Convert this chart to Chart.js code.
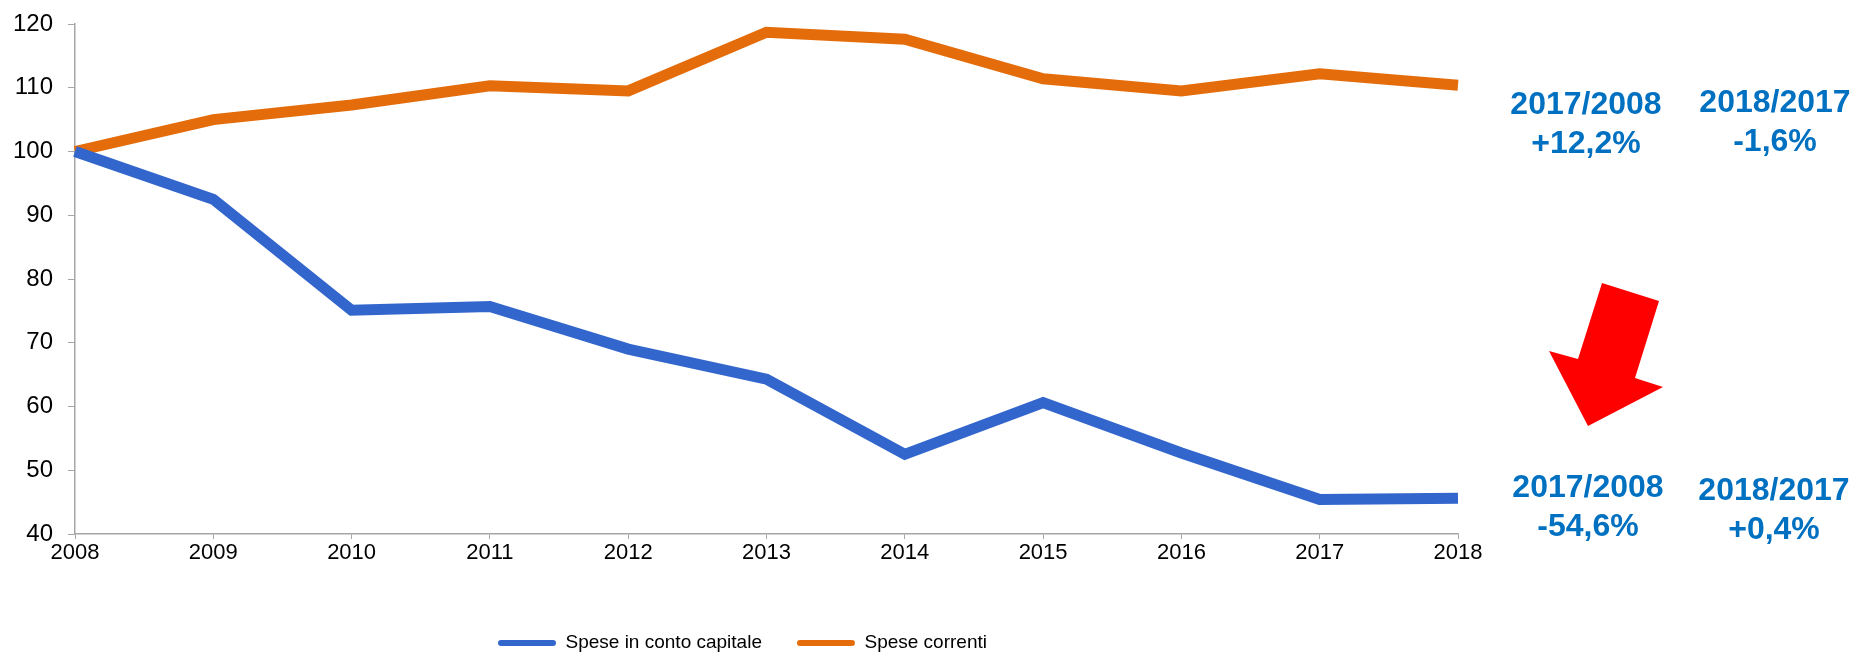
<!DOCTYPE html>
<html>
<head>
<meta charset="utf-8">
<script src="https://cdn.jsdelivr.net/npm/chart.js@4"></script>
<style>
  html, body { margin: 0; padding: 0; background: #fff; }
  #wrap { width: 1869px; height: 653px; position: relative; }
</style>
</head>
<body>
<div id="wrap"><canvas id="spese"></canvas></div>
<script>
const years = ['2008', '2009', '2010', '2011', '2012', '2013', '2014', '2015', '2016', '2017', '2018'];
const speseCapitale = [100, 92.5, 75.1, 75.7, 69.0, 64.3, 52.5, 60.6, 52.7, 45.4, 45.6];
const speseCorrenti = [100, 105.0, 107.3, 110.3, 109.5, 118.7, 117.6, 111.4, 109.5, 112.2, 110.4];
const yTicks = [40, 50, 60, 70, 80, 90, 100, 110, 120];
const notesCorrenti = [['2017/2008', '+12,2%'], ['2018/2017', '-1,6%']];
const notesCapitale = [['2017/2008', '-54,6%'], ['2018/2017', '+0,4%']];

const FONT = '"Liberation Sans", Arial, Helvetica, sans-serif';

// legend sits left of the canvas centre in the original
const legendPlace = {
    id: 'legendPlace',
    afterLayout(chart) {
        let lg = chart.legend;
        let pad = lg.options.labels.padding;
        let w = lg.right - lg.left, h = lg.bottom - lg.top;
        lg.left = 498 - pad;
        lg.right = lg.left + w;
        lg.top = 643 - pad - 9.5;
        lg.bottom = lg.top + h;
    }
};

const notes = {
    id: 'notes',
    afterDraw(chart) {
        const ctx = chart.ctx;
        ctx.save();
        // red arrow
        ctx.fillStyle = '#FF0000';
        ctx.beginPath();
        [[1602, 283], [1659, 301], [1635, 378], [1663, 387], [1588, 426], [1549, 351], [1578, 359]]
            .forEach((p, i) => i ? ctx.lineTo(p[0], p[1]) : ctx.moveTo(p[0], p[1]));
        ctx.closePath();
        ctx.fill();

        ctx.fillStyle = '#0070C0';
        ctx.font = 'bold 32px ' + FONT;
        ctx.textAlign = 'center';
        ctx.textBaseline = 'alphabetic';
        let draw = (lines, x, y) => {
            ctx.fillText(lines[0], x, y);
            ctx.fillText(lines[1], x, y + 39);
        };
        draw(notesCorrenti[0], 1586, 114);
        draw(notesCorrenti[1], 1775, 112);
        draw(notesCapitale[0], 1588, 497);
        draw(notesCapitale[1], 1774, 500);
        ctx.restore();
    }
};

(async function() {
    window.speseChart = new Chart(
        document.getElementById('spese'),
        {
            type: 'line',
            data: {
                labels: years,
                datasets: [
                {
                    label: 'Spese in conto capitale',
                    data: speseCapitale,
                    borderColor: '#3366CC',
                    backgroundColor: '#3366CC',
                    borderWidth: 11,
                    pointRadius: 0,
                    tension: 0
                },
                {
                    label: 'Spese correnti',
                    data: speseCorrenti,
                    borderColor: '#E46C0A',
                    backgroundColor: '#E46C0A',
                    borderWidth: 11,
                    pointRadius: 0,
                    tension: 0
                }
                ]
            },
            options: {
                responsive: true,
                maintainAspectRatio: false,
                animation: false,
                layout: {
                    padding: { top: 24, right: 411, left: 0, bottom: 0 }
                },
                plugins: {
                    tooltip: { enabled: false },
                    legend: {
                        position: 'bottom',
                        align: 'start',
                        labels: {
                            boxWidth: 58,
                            boxHeight: 6,
                            useBorderRadius: true,
                            borderRadius: 3,
                            padding: 35,
                            color: '#000',
                            font: { family: FONT, size: 19 },
                            generateLabels(chart) {
                                return Chart.defaults.plugins.legend.labels.generateLabels(chart)
                                    .map(l => Object.assign(l, { fillStyle: l.strokeStyle, lineWidth: 0 }));
                            }
                        }
                    }
                },
                scales: {
                    x: {
                        afterFit: s => { s.height = 55; },
                        grid: { display: true, drawOnChartArea: false, tickLength: 5, color: '#A6A6A6' },
                        border: { color: '#A6A6A6', width: 1.5 },
                        ticks: { color: '#000', padding: 1, maxRotation: 0, font: { family: FONT, size: 22 } }
                    },
                    y: {
                        min: yTicks[0],
                        max: yTicks[yTicks.length - 1],
                        afterFit: s => { s.width = 75; s.paddingTop = 0; s.paddingBottom = 0; },
                        afterBuildTicks: s => { s.ticks = yTicks.map(v => ({ value: v })); },
                        grid: { display: true, drawOnChartArea: false, tickLength: 7, color: '#A6A6A6' },
                        border: { color: '#A6A6A6', width: 1.5 },
                        ticks: { color: '#000', padding: 15, font: { family: FONT, size: 24 } }
                    }
                }
            },
            plugins: [legendPlace, notes]
        }
    );
})();
</script>
</body>
</html>
